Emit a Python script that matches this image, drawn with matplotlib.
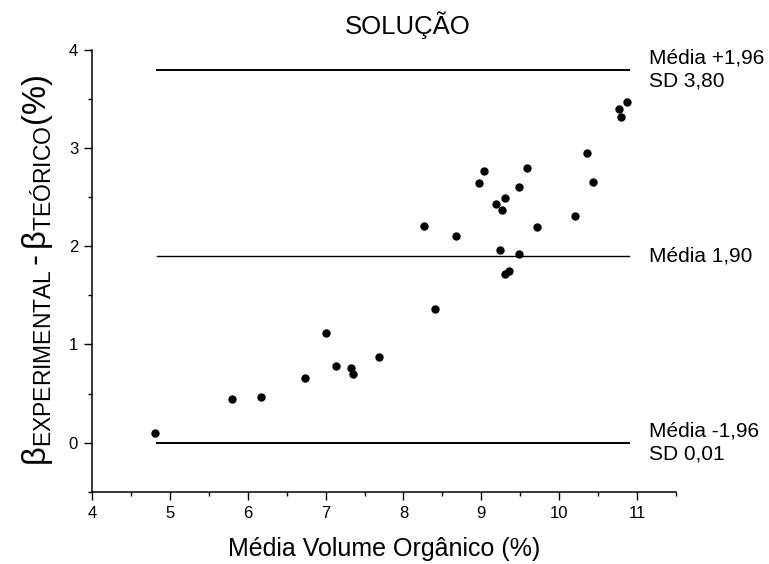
import matplotlib
matplotlib.use("Agg")
import matplotlib.pyplot as plt
from matplotlib.ticker import MultipleLocator

plt.rcParams['font.family'] = ['Liberation Sans', 'DejaVu Sans']
plt.rcParams['mathtext.fontset'] = 'custom'
plt.rcParams['mathtext.rm'] = 'Liberation Sans'
plt.rcParams['mathtext.it'] = 'Liberation Sans'

# Média volume orgânico (%) e diferença experimental - teórico (%)
media_volume = [10.87, 10.77, 10.79, 10.36, 10.43, 9.59, 9.03, 8.97, 9.49, 9.30,
                9.19, 9.26, 10.20, 8.27, 8.68, 9.72, 9.24, 9.49, 9.30, 9.36,
                8.40, 7.01, 7.68, 7.13, 7.32, 7.35, 6.74, 5.80, 6.17, 4.81]
diferenca = [3.47, 3.40, 3.32, 2.95, 2.66, 2.80, 2.77, 2.65, 2.60, 2.49,
             2.43, 2.37, 2.31, 2.21, 2.10, 2.20, 1.96, 1.92, 1.72, 1.75,
             1.36, 1.12, 0.87, 0.78, 0.76, 0.70, 0.66, 0.44, 0.46, 0.10]

# linhas de concordância (Bland-Altman)
limites = [3.80, 1.90, 0.0]
limites_lw = [1.4, 1.0, 1.4]
limites_txt = ['Média +1,96\nSD 3,80', 'Média 1,90', 'Média -1,96\nSD 0,01']
linha_x = [4.84, 10.89]

fig = plt.figure(figsize=(7.69, 5.64), dpi=100)
ax = fig.add_axes([92 / 769, 1 - 491.7 / 564, (676 - 92) / 769, (491.7 - 50) / 564])

for y, lw, txt in zip(limites, limites_lw, limites_txt):
    ax.plot(linha_x, [y, y], color='black', linewidth=lw)
    ax.text(11.15, y, txt, fontsize=15, va='center', ha='left', linespacing=1.25,
            clip_on=False)

ax.plot(media_volume, diferenca, 'o', color='black', markersize=5)

ax.set_xlim(4, 11.5)
ax.set_ylim(-0.5, 4)
ax.xaxis.set_major_locator(MultipleLocator(1))
ax.xaxis.set_minor_locator(MultipleLocator(0.5))
ax.yaxis.set_major_locator(MultipleLocator(1))
ax.yaxis.set_minor_locator(MultipleLocator(0.5))
ax.tick_params(which='major', direction='out', length=6, width=1, labelsize=12, pad=4)
ax.tick_params(which='minor', direction='out', length=3, width=1)
for s in ['top', 'right']:
    ax.spines[s].set_visible(False)
for s in ['left', 'bottom']:
    ax.spines[s].set_linewidth(1.1)

ax.set_xlabel('Média Volume Orgânico (%)', fontsize=18, labelpad=12)
ax.set_ylabel('$\\mathrm{β}_{\\mathrm{EXPERIMENTAL}}\\mathrm{\\,\u2010\\,β}_{\\mathrm{TEÓRICO}}\\mathrm{(\\%)}$',
              fontsize=23.5, labelpad=10)
fig.text(408 / 769, 1 - 25 / 564, 'SOLUÇÃO', fontsize=18.5, ha='center', va='center')

fig.savefig('out.png', dpi=100)
